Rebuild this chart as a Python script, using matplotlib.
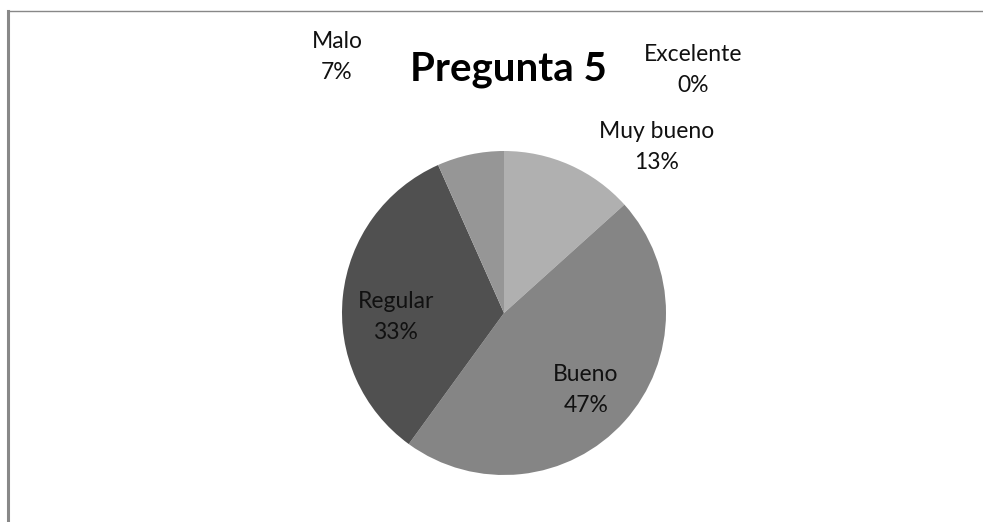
import matplotlib
matplotlib.use('Agg')
import matplotlib.pyplot as plt
from matplotlib.lines import Line2D

# Pregunta 5 - answer counts (15 answers)
categories = ["Excelente", "Muy bueno", "Bueno", "Regular", "Malo"]
counts = [0, 2, 7, 5, 1]
colors = ["#c8c8c8", "#b0b0b0", "#858585", "#505050", "#969696"]

# label centres in pie-radius units (Excel "best fit" placement)
label_pos = [(1.167, 1.50), (0.944, 1.025), (0.506, -0.475),
             (-0.667, -0.025), (-1.031, 1.580)]

plt.rcParams['font.family'] = ['Lato', 'DejaVu Sans']

W, H, dpi = 983, 522, 100
cx, cy, r = 504, 313, 162  # pie centre and radius in pixels

fig = plt.figure(figsize=(W / dpi, H / dpi), dpi=dpi)
ax = fig.add_axes([0, 0, 1, 1])

wedges, _ = ax.pie(counts, colors=colors, startangle=90, counterclock=False,
                   radius=1.0, wedgeprops=dict(linewidth=0))

total = sum(counts)
for name, n, (lx, ly) in zip(categories, counts, label_pos):
    pct = round(100 * n / total)
    ax.text(lx, ly, f"{name}\n{pct}%", ha='center', va='center',
            fontsize=16.5, color='#111111', linespacing=1.55)

ax.text(0.025, 1.50, "Pregunta 5", ha='center', va='center',
        fontsize=29, fontweight='bold', color='black')

ax.set_xlim(-cx / r, (W - cx) / r)
ax.set_ylim(-(H - cy) / r, cy / r)
ax.set_aspect('auto')
ax.set_axis_off()

# chart frame (top and left edges visible in the crop)
fig.add_artist(Line2D([8 / W, 1], [1 - 11 / H, 1 - 11 / H], color='#888888', lw=1))
fig.add_artist(Line2D([8 / W, 8 / W], [0, 1 - 11 / H], color='#888888', lw=2.2))

fig.savefig("out.png", dpi=dpi)
